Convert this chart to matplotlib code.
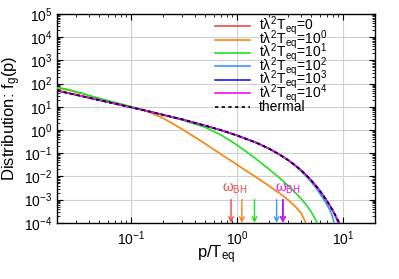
import matplotlib
matplotlib.use("Agg")
import matplotlib.pyplot as plt
from matplotlib.ticker import LogLocator, NullFormatter
from matplotlib.lines import Line2D

plt.rcParams['font.family'] = ['Liberation Sans', 'DejaVu Sans']
plt.rcParams['mathtext.fontset'] = 'custom'
plt.rcParams['mathtext.rm'] = 'Liberation Sans'
plt.rcParams['mathtext.it'] = 'Liberation Sans'

# ---- data ----
p_th = [0.02, 0.03, 0.05, 0.07, 0.1, 0.15, 0.2, 0.3, 0.5, 0.7, 1.0, 1.5, 2.0, 2.5, 3.0,
        3.5, 4.0, 4.5, 5.0, 5.5, 6.0, 6.5, 7.0, 7.5, 8.0, 8.5, 9.0, 9.2]
f_th = [50, 33, 19.5, 13.8, 9.5, 6.2, 4.5, 2.9, 1.54, 0.99, 0.58, 0.29, 0.157, 0.089, 0.052,
        0.031, 0.0187, 0.0112, 0.0068, 0.0041, 0.0025, 0.0015, 0.00091, 0.00055, 0.00034,
        0.00020, 0.000123, 0.0001]

p_t0 = p_th
f_t0 = f_th

p_t1 = [0.02, 0.022, 0.025, 0.028, 0.03, 0.035, 0.04, 0.05, 0.07, 0.1, 0.13, 0.15, 0.2, 0.3,
        0.45, 0.6, 0.866, 1.24, 1.7, 2.0, 2.57, 3.0, 3.5, 4.0, 4.45]
f_t1 = [63, 60, 53, 48, 42, 37, 30, 22.5, 15, 10, 7.1, 5.75, 3.25, 1.12,
        0.35, 0.147, 0.049, 0.0166, 0.0065, 0.0039, 0.00175, 0.00101, 0.00053,
        0.00027, 0.0001]

p_t10 = [0.02, 0.022, 0.025, 0.028, 0.03, 0.035, 0.04, 0.05, 0.07, 0.1, 0.15, 0.2, 0.3, 0.5,
         0.7, 0.866, 1.0, 1.2, 1.46, 2.0, 2.57, 3.0, 3.5, 4.0, 4.6, 5.2, 5.7]
f_t10 = [66, 63, 57, 50, 45, 38, 31, 23, 15.5, 10.2, 6.3, 4.45, 2.75, 1.3,
         0.62, 0.342, 0.222, 0.124, 0.064, 0.0205, 0.0079, 0.0042, 0.0021, 0.00112, 0.00052,
         0.00022, 0.0001]

p_t100 = p_th[:15] + [3.5, 4.0, 4.5, 5.0, 5.5, 6.0, 6.5, 7.0, 7.5, 8.0, 8.2]
f_t100 = f_th[:15] + [0.030, 0.017, 0.0100, 0.0058, 0.0034, 0.0019, 0.0011, 0.00062, 0.00036,
                      0.00017, 0.0001]

p_t1000 = p_th[:-1]
f_t1000 = f_th[:-3] + [0.00019, 0.0001]

p_t10000 = p_th
f_t10000 = f_th

labels = [r'$t\lambda^2T_{\rm eq}$=0', r'$t\lambda^2T_{\rm eq}$=$10^0$',
          r'$t\lambda^2T_{\rm eq}$=$10^1$', r'$t\lambda^2T_{\rm eq}$=$10^2$',
          r'$t\lambda^2T_{\rm eq}$=$10^3$', r'$t\lambda^2T_{\rm eq}$=$10^4$']
colors = ['#f04848', '#ff8010', '#20e020', '#3a96ff', '#1a1aee', '#f010f0']

# omega_BH arrow positions (p/T_eq), one per curve
w_bh = [0.877, 1.11, 1.46, 2.36, 2.70, 2.72]
arrow_top = 1.0e-3
arrow_bot = 1.0e-4

W, H = 399, 279
fig = plt.figure(figsize=(W / 100, H / 100), dpi=100)
ax_l, ax_r, ax_t, ax_b = 57, 375, 14, 222.8
ax = fig.add_axes([ax_l / W, 1 - ax_b / H, (ax_r - ax_l) / W, (ax_b - ax_t) / H])

series = [(p_t0, f_t0), (p_t1, f_t1), (p_t10, f_t10), (p_t100, f_t100),
          (p_t1000, f_t1000), (p_t10000, f_t10000)]
zs = [2, 3, 3, 3, 4, 5]
for (p, f), c, z in zip(series, colors, zs):
    ax.plot(p, f, color=c, lw=1.2, zorder=z)
ax.plot(p_th, f_th, color='black', lw=1.2, ls=(0, (2, 2)), zorder=6)

for wx, c in zip(w_bh, colors):
    ax.annotate('', xy=(wx, arrow_bot), xytext=(wx, arrow_top),
                arrowprops=dict(arrowstyle='->', color=c, lw=1.0,
                                shrinkA=0, shrinkB=0, mutation_scale=8), zorder=7)
ax.text(w_bh[0] * 1.08, 1.4e-3, r'$\omega_{\rm BH}$', color=colors[0], fontsize=10,
        ha='center', va='bottom')
ax.text(w_bh[5] * 1.1, 1.4e-3, r'$\omega_{\rm BH}$', color=colors[5], fontsize=10,
        ha='center', va='bottom')

# manual legend (gnuplot style key)
def axfrac_x(px):
    return (px - ax_l) / (ax_r - ax_l)

def axfrac_y(py):
    return (ax_b - py) / (ax_b - ax_t)

leg_rows = [26, 39.5, 52.9, 66.3, 79.7, 93.1, 107]
for i, (c, lab) in enumerate(zip(colors + ['black'], labels + ['thermal'])):
    yy = axfrac_y(leg_rows[i])
    ls = '-' if i < 6 else (0, (2, 2))
    ax.add_line(Line2D([axfrac_x(215), axfrac_x(250)], [yy, yy], transform=ax.transAxes,
                       color=c, lw=1.2, ls=ls, zorder=8))
    ax.text(axfrac_x(259), yy, lab, transform=ax.transAxes, fontsize=10,
            ha='left', va='center', zorder=8)

ax.set_xscale('log')
ax.set_yscale('log')
ax.set_xlim(0.02, 20)
ax.set_ylim(1e-4, 1e5)
ax.set_yticks([10.0**k for k in range(-4, 6)])
ax.set_xticks([0.1, 1, 10])
ax.xaxis.set_minor_locator(LogLocator(base=10, subs=range(2, 10), numticks=20))
ax.yaxis.set_minor_locator(LogLocator(base=10, subs=range(2, 10), numticks=20))
ax.xaxis.set_minor_formatter(NullFormatter())
ax.yaxis.set_minor_formatter(NullFormatter())
ax.tick_params(which='both', direction='in', top=True, right=True, labelsize=10)
ax.tick_params(which='major', length=4, width=0.8)
ax.tick_params(which='minor', length=2, width=0.6)
ax.tick_params(axis='x', pad=5)
ax.grid(True, which='major', color='#d0d0d0', lw=0.8)
for s in ax.spines.values():
    s.set_linewidth(1.0)

ax.set_xlabel(r'p/T$_{\rm eq}$', fontsize=12)
ax.xaxis.set_label_coords(0.5, axfrac_y(255), transform=ax.transAxes)
ax.xaxis.label.set_va('center')
ax.set_ylabel(r'Distribution: f$_{\rm g}$(p)', fontsize=12)
ax.yaxis.set_label_coords(axfrac_x(12), 0.5, transform=ax.transAxes)
ax.yaxis.label.set_va('center')

fig.savefig('out.png', dpi=100)
